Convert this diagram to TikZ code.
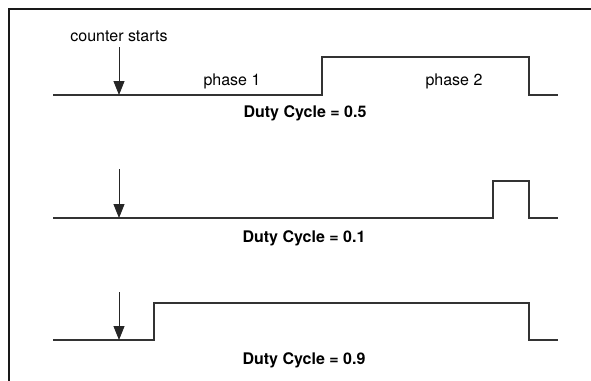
\documentclass[tikz,border=0pt]{standalone}
\usepackage{fontspec}
\setmainfont{TeX Gyre Heros}
\usetikzlibrary{arrows.meta,positioning}

\begin{document}
\begin{tikzpicture}[x=1pt,y=-1pt,>={Triangle[length=14pt,width=11pt]},
    font=\fontsize{16}{19}\selectfont]
    % 设置样式
    \tikzstyle{wave}=[draw=black!80,line width=1.3pt]
    \tikzstyle{mark arrow}=[->,draw=black!85,line width=0.9pt]
    \tikzstyle{txt}=[inner sep=0pt]
    \tikzstyle{duty}=[inner sep=0pt,font=\fontsize{16}{19}\selectfont\bfseries]

    \useasboundingbox (0,0) rectangle (591,380);

    % 外框
    \draw[line width=2pt,black!90] (8.5,420) |- (640,9);

    % 波形 1
    \coordinate (s1) at (53,95);
    \coordinate (r1) at (322,57);
    \coordinate (f1) at (529,95);
    \coordinate (e1) at (558,95);
    \coordinate (t1) at (119,47);
    \coordinate (b1) at (119,95);
    \draw[wave] (s1) -| (r1) -| (f1) -- (e1);
    \draw[mark arrow] (t1) -- (b1);
    \node[txt] (start) [above=5pt of t1] {counter starts};
    \node[txt] (ph1) at (232,81) {phase 1};
    \node[txt] (ph2) at (454,81) {phase 2};
    \node[duty] (d1) at (305,113) {Duty Cycle = 0.5};

    % 波形 2
    \coordinate (s2) at (53,218);
    \coordinate (r2) at (493,181);
    \coordinate (f2) at (529,218);
    \coordinate (e2) at (558,218);
    \coordinate (t2) at (119,169);
    \coordinate (b2) at (119,218);
    \draw[wave] (s2) -| (r2) -| (f2) -- (e2);
    \draw[mark arrow] (t2) -- (b2);
    \node[duty] (d2) at (304,238) {Duty Cycle = 0.1};

    % 波形 3
    \coordinate (s3) at (53,340);
    \coordinate (r3) at (154,303);
    \coordinate (f3) at (529,340);
    \coordinate (e3) at (558,340);
    \coordinate (t3) at (119,292);
    \coordinate (b3) at (119,340);
    \draw[wave] (s3) -| (r3) -| (f3) -- (e3);
    \draw[mark arrow] (t3) -- (b3);
    \node[duty] (d3) at (304,360) {Duty Cycle = 0.9};
\end{tikzpicture}
\end{document}
